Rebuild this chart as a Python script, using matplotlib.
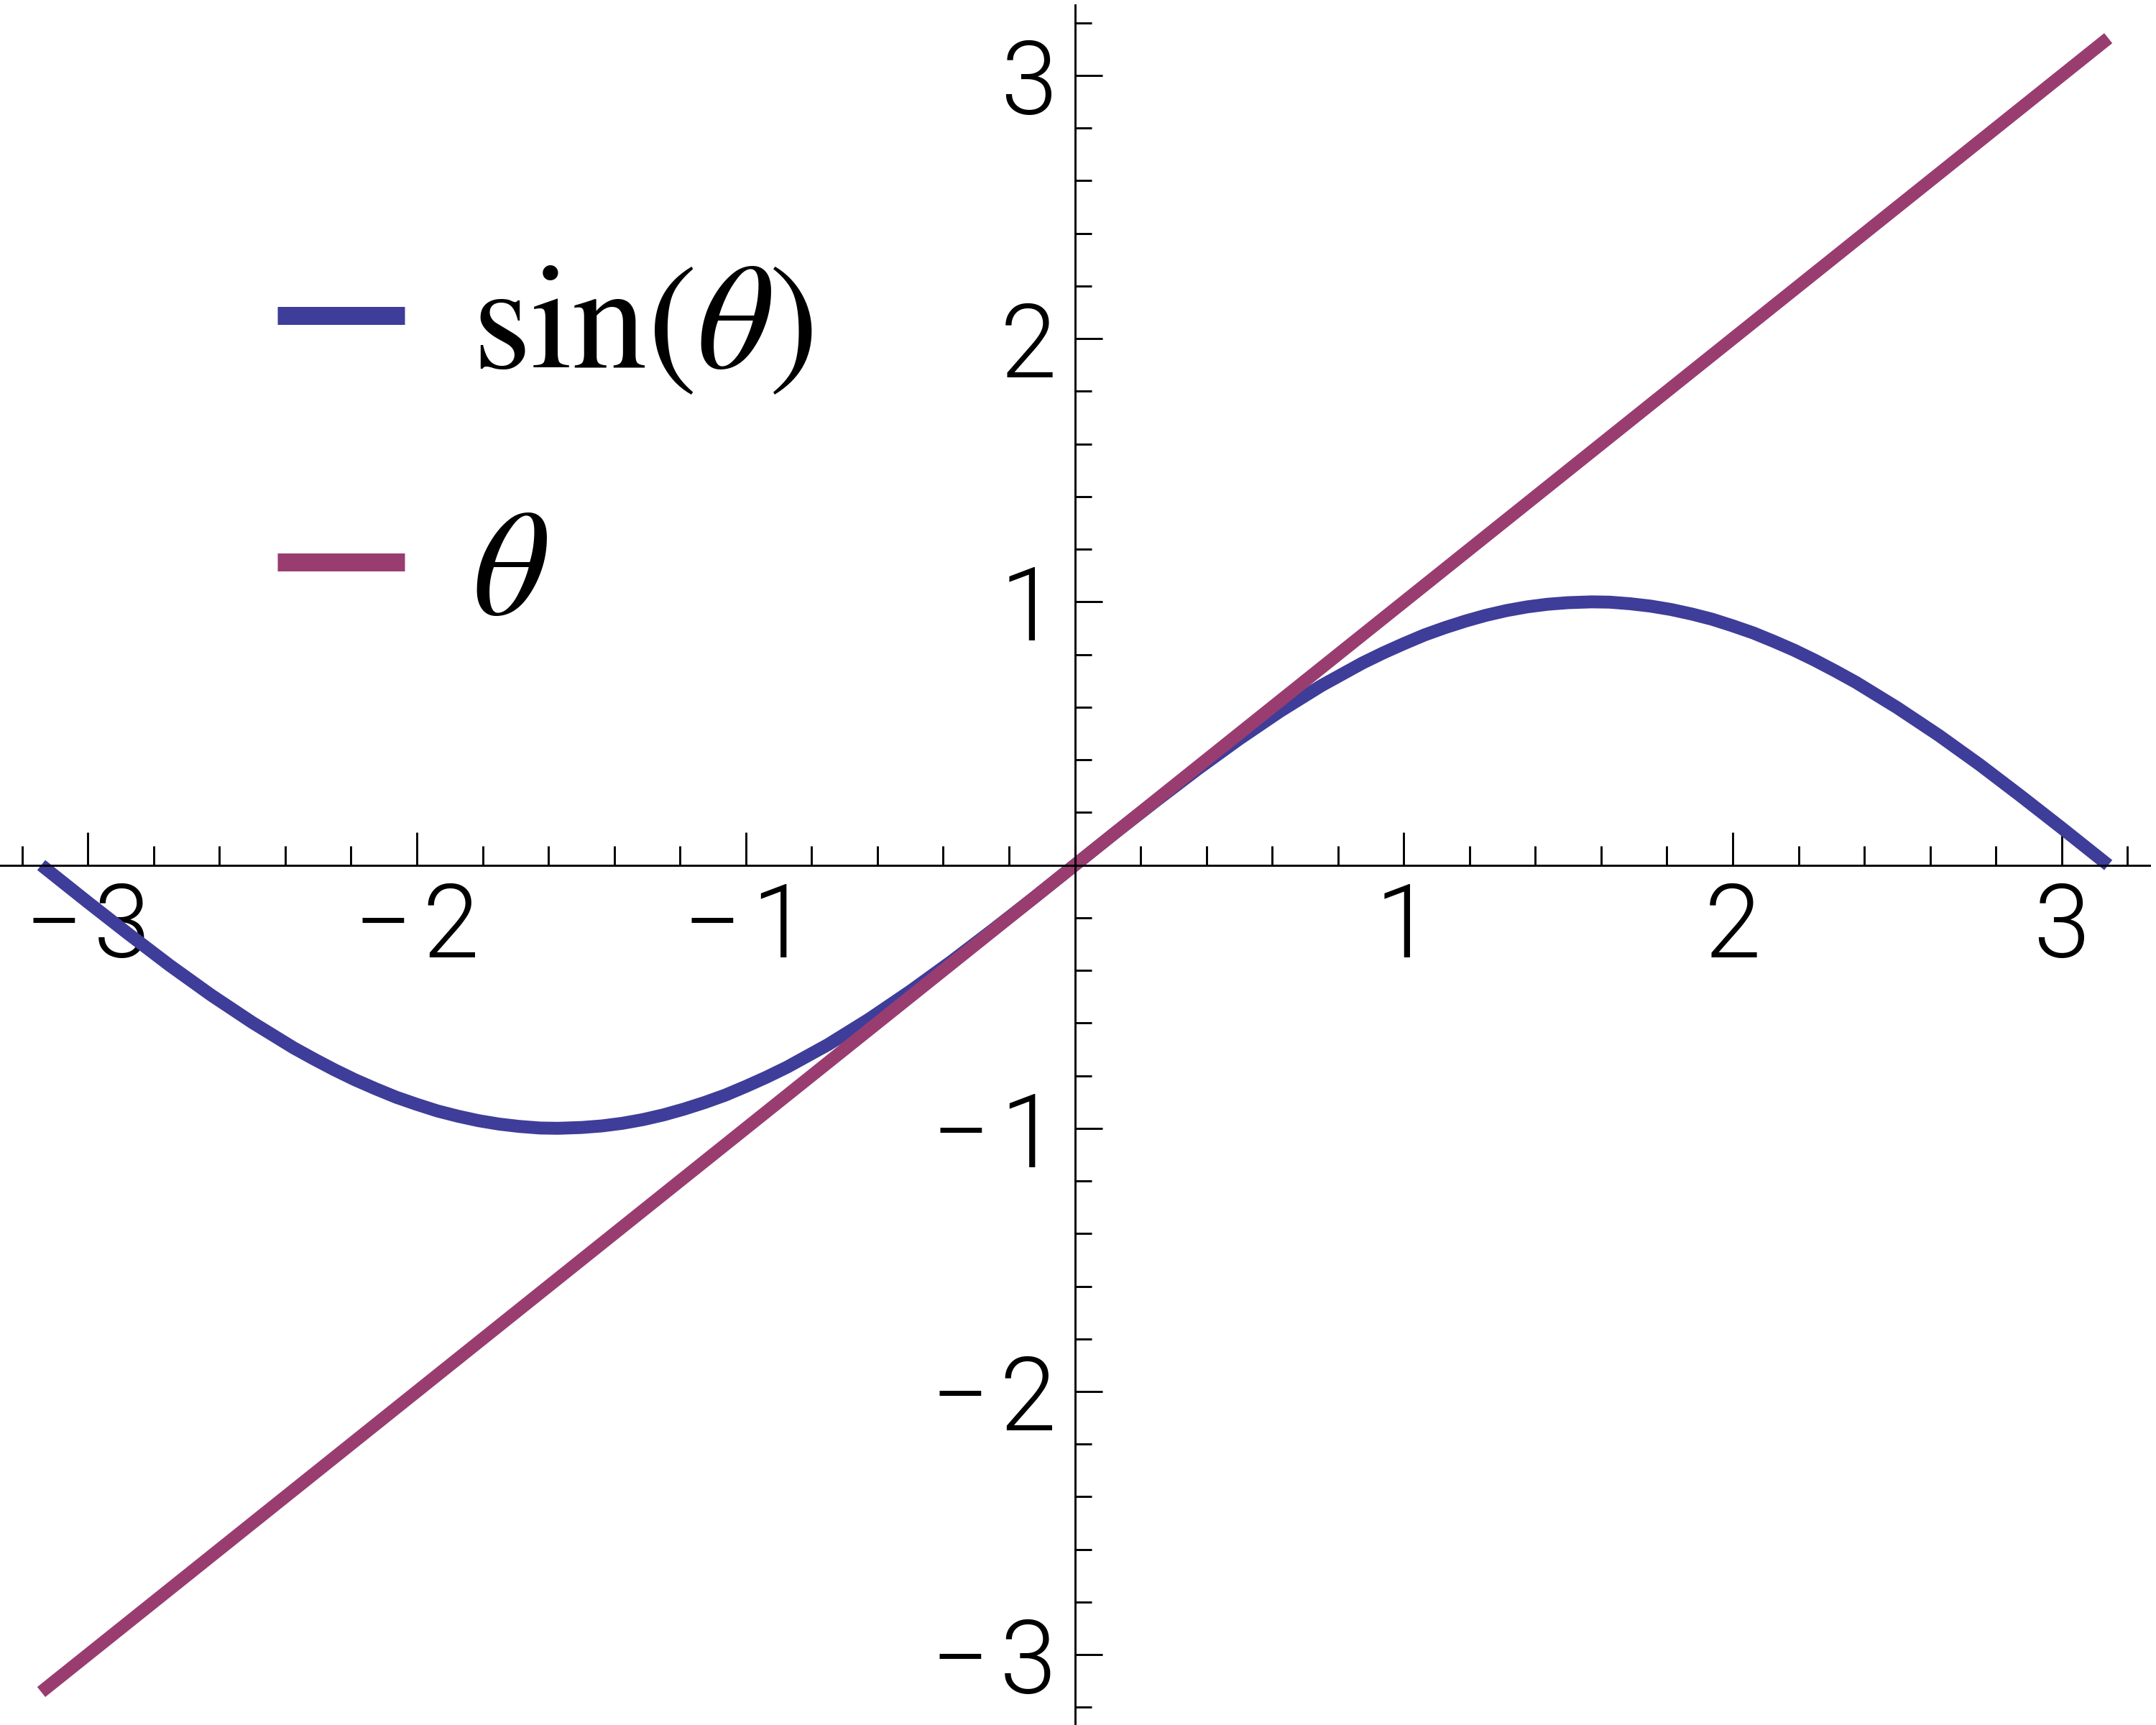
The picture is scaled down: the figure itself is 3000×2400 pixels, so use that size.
import matplotlib
matplotlib.use("Agg")
import matplotlib.pyplot as plt
from matplotlib.ticker import FixedLocator, MultipleLocator

# sin(theta) sampled off the curve
theta = [-3.1416, -3.0, -2.875, -2.75, -2.625, -2.5, -2.375, -2.3125, -2.25, -2.1875,
         -2.125, -2.0625, -2.0, -1.9375, -1.875, -1.8125, -1.75, -1.6875, -1.625,
         -1.5708, -1.5, -1.4375, -1.375, -1.3125, -1.25, -1.1875, -1.125, -1.0625,
         -1.0, -0.9375, -0.875, -0.75, -0.625, -0.5, -0.375, -0.25, -0.125, 0.0,
         0.125, 0.25, 0.375, 0.5, 0.625, 0.75, 0.875, 0.9375, 1.0, 1.0625, 1.125,
         1.1875, 1.25, 1.3125, 1.375, 1.4375, 1.5, 1.5708, 1.625, 1.6875, 1.75,
         1.8125, 1.875, 1.9375, 2.0, 2.0625, 2.125, 2.1875, 2.25, 2.3125, 2.375,
         2.5, 2.625, 2.75, 2.875, 3.0, 3.1416]
sin_theta = [0.0, -0.141, -0.263, -0.382, -0.494, -0.598, -0.694, -0.737, -0.778, -0.816,
             -0.850, -0.882, -0.909, -0.934, -0.954, -0.971, -0.984, -0.993, -0.999,
             -1.0, -0.997, -0.991, -0.981, -0.967, -0.949, -0.927, -0.902, -0.874,
             -0.841, -0.806, -0.768, -0.682, -0.585, -0.479, -0.366, -0.247, -0.125, 0.0,
             0.125, 0.247, 0.366, 0.479, 0.585, 0.682, 0.768, 0.806, 0.841, 0.874, 0.902,
             0.927, 0.949, 0.967, 0.981, 0.991, 0.997, 1.0, 0.999, 0.993, 0.984,
             0.971, 0.954, 0.934, 0.909, 0.882, 0.850, 0.816, 0.778, 0.737, 0.694,
             0.598, 0.494, 0.382, 0.263, 0.141, 0.0]

# identity line end points
line_x = [-3.1416, 3.1416]
line_y = [-3.1416, 3.1416]

tick_vals = [-3, -2, -1, 1, 2, 3]
tick_labels = ["\u2212\u200a3", "\u2212\u200a2", "\u2212\u200a1", "1", "2", "3"]

blue = "#3e3d99"
purple = "#993d70"

plt.rcParams["mathtext.fontset"] = "stix"

fig = plt.figure(figsize=(10, 8), dpi=300)
ax = fig.add_axes([0.0, 0.0, 0.997, 0.997])

ax.plot(theta, sin_theta, color=blue, lw=4.3, solid_capstyle="butt",
        solid_joinstyle="round", label=r"$\sin(\theta)$")
ax.plot(line_x, line_y, color=purple, lw=4.3, solid_capstyle="butt",
        label=r"$\theta$")

ax.set_xlim(-3.267, 3.267)
ax.set_ylim(-3.267, 3.267)

for side in ["top", "right"]:
    ax.spines[side].set_visible(False)
ax.spines["left"].set_position(("data", 0))
ax.spines["bottom"].set_position(("data", 0))
ax.spines["left"].set_linewidth(0.7)
ax.spines["bottom"].set_linewidth(0.7)

ax.xaxis.set_major_locator(FixedLocator(tick_vals))
ax.yaxis.set_major_locator(FixedLocator(tick_vals))
ax.set_xticklabels(tick_labels)
ax.set_yticklabels(tick_labels)
ax.xaxis.set_minor_locator(MultipleLocator(0.2))
ax.yaxis.set_minor_locator(MultipleLocator(0.2))

ax.tick_params(axis="x", which="major", direction="in", length=11, width=0.7, pad=5)
ax.tick_params(axis="x", which="minor", direction="in", length=6.5, width=0.7)
ax.tick_params(axis="y", which="major", direction="in", length=9, width=0.7, pad=6)
ax.tick_params(axis="y", which="minor", direction="in", length=5.5, width=0.7)

for lab in ax.get_xticklabels() + ax.get_yticklabels():
    lab.set_fontfamily(["Roboto", "DejaVu Sans"])
    lab.set_fontweight(300)
    lab.set_fontsize(34)

leg = ax.legend(loc="upper left", bbox_to_anchor=(0.0665, 0.934), frameon=False,
                fontsize=50, handlelength=0.85, handletextpad=0.45,
                labelspacing=0.68)
for h in leg.get_lines():
    h.set_linewidth(6)

fig.savefig("out.png", dpi=300, facecolor="white")
